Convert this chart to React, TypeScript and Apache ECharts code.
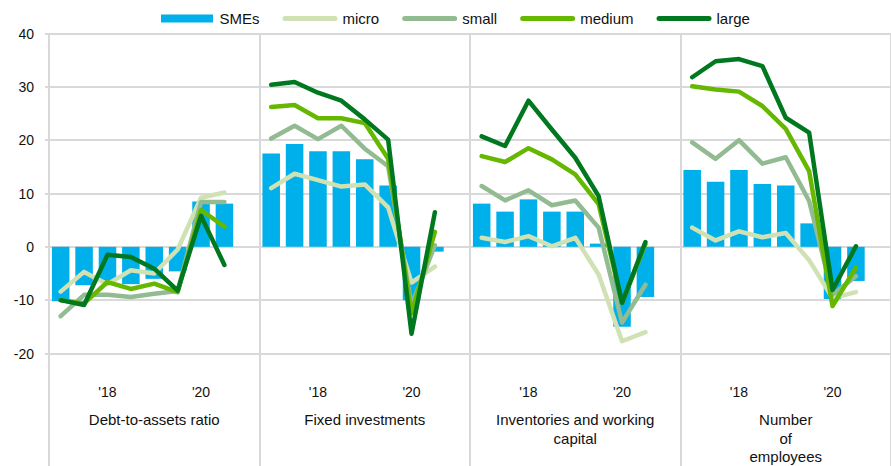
import React, { useEffect, useRef } from "react";
import * as echarts from "echarts";

const panelNames = [
  "Debt-to-assets ratio",
  "Fixed investments",
  "Inventories and working\ncapital",
  "Number\nof\nemployees",
];
const slotLabels = ["", "", "'18", "", "", "", "'20", "", ""];

// values per panel (8 survey rounds each)
const smes = [
  [-10.2, -7.2, -6.5, -7.0, -6.0, -4.6, 8.5, 8.1],
  [17.5, 19.3, 17.9, 17.9, 16.4, 11.5, -10.0, -0.9],
  [8.1, 6.6, 8.9, 6.6, 6.6, 0.6, -15.0, -9.4],
  [14.4, 12.2, 14.4, 11.8, 11.5, 4.4, -9.8, -6.4],
];
const micro = [
  [-8.4, -4.7, -7.0, -4.4, -5.0, -0.5, 9.2, 10.2],
  [11.0, 13.7, 12.5, 11.3, 11.7, 7.4, -6.7, -3.7],
  [1.7, 0.9, 2.0, 0.1, 1.7, -5.2, -17.7, -16.0],
  [3.6, 1.2, 2.9, 1.8, 2.6, -2.5, -9.6, -8.5],
];
const small = [
  [-13.0, -9.0, -9.0, -9.4, -8.8, -8.3, 8.4, 8.4],
  [20.3, 22.7, 20.2, 22.7, 18.4, 15.1, -11.0, 0.3],
  [11.4, 8.7, 10.6, 7.8, 8.7, 3.6, -14.2, -7.1],
  [19.6, 16.5, 20.0, 15.6, 16.8, 8.6, -9.0, -5.5],
];
const medium = [
  [-10.0, -10.6, -6.6, -7.9, -6.9, -8.5, 6.9, 3.8],
  [26.2, 26.6, 24.1, 24.1, 23.2, 16.5, -12.5, 2.8],
  [17.0, 15.9, 18.5, 16.4, 13.6, 8.0, -10.5, 0.5],
  [30.1, 29.5, 29.1, 26.4, 22.1, 14.2, -11.1, -3.9],
];
const large = [
  [-10.0, -10.9, -1.5, -1.9, -4.1, -8.2, 5.8, -3.4],
  [30.4, 30.9, 28.9, 27.4, 23.9, 20.1, -16.3, 6.5],
  [20.7, 18.9, 27.4, 22.0, 16.7, 9.5, -10.5, 0.9],
  [31.8, 34.8, 35.2, 33.9, 24.2, 21.4, -8.1, 0.1],
];

const colors = {
  SMEs: "#00B0EA",
  micro: "#D0E2B4",
  small: "#92BB91",
  medium: "#65B700",
  large: "#00781F",
};

const flat = (arr: number[][]) => {
  const out: (number | null)[] = [];
  arr.forEach((p) => {
    p.forEach((v) => out.push(v));
    out.push(null);
  });
  return out;
};

const categories: string[] = [];
panelNames.forEach((_, pi) => slotLabels.forEach((_, si) => categories.push(`${pi}-${si}`)));

const FONT = "Liberation Sans, Arial, sans-serif";
const GRID_COLOR = "#D9D9D9";
const LINE_ICON = "path://M2.5,0H52.5A2.5,2.5,0,0,1,52.5,5H2.5A2.5,2.5,0,0,1,2.5,0Z";
const BAR_ICON = "path://M0,0H52V8H0Z";

export default function App() {
  const ref = useRef<HTMLDivElement>(null);
  useEffect(() => {
    if (!ref.current) return;
    const chart = echarts.init(ref.current, undefined, { renderer: "svg" });
    const lineSeries = (name: keyof typeof colors, data: number[][]) => ({
      name,
      type: "line",
      xAxisIndex: 0,
      yAxisIndex: 0,
      data: flat(data),
      symbol: "none",
      connectNulls: false,
      lineStyle: { color: colors[name], width: 4.5, cap: "round", join: "round" },
      itemStyle: { color: colors[name] },
    });
    chart.setOption({
      animation: false,
      textStyle: { fontFamily: FONT },
      legend: {
        data: [
          { name: "SMEs", icon: BAR_ICON },
          { name: "micro", icon: LINE_ICON },
          { name: "small", icon: LINE_ICON },
          { name: "medium", icon: LINE_ICON },
          { name: "large", icon: LINE_ICON },
        ],
        left: 156,
        top: 6,
        itemWidth: 55,
        itemHeight: 8,
        itemGap: 23,
        symbolKeepAspect: true,
        textStyle: { fontSize: 15, color: "#111", fontFamily: FONT },
      },
      grid: [
        { left: 49, top: 33.5, width: 846, height: 320.5 },
        { left: 49, top: 354, width: 846, bottom: 0 },
      ],
      xAxis: [
        {
          type: "category",
          gridIndex: 0,
          data: categories,
          position: "bottom",
          axisLine: { show: false },
          axisTick: { show: false },
          splitLine: { show: false },
          axisLabel: {
            interval: 0,
            margin: 31,
            fontSize: 14,
            color: "#111",
            fontFamily: FONT,
            formatter: (_v: string, i: number) => slotLabels[i % 9],
          },
        },
        {
          type: "category",
          gridIndex: 0,
          data: panelNames,
          position: "bottom",
          axisLine: { show: false },
          axisTick: { show: false },
          splitLine: { show: true, interval: 0, lineStyle: { color: GRID_COLOR, width: 2 } },
          axisLabel: {
            interval: 0,
            margin: 57,
            fontSize: 15,
            lineHeight: 18.5,
            color: "#111",
            fontFamily: FONT,
          },
        },
        {
          type: "category",
          gridIndex: 1,
          data: panelNames,
          axisLine: { show: false },
          axisTick: { show: false },
          axisLabel: { show: false },
          splitLine: { show: true, interval: 0, lineStyle: { color: GRID_COLOR, width: 2 } },
        },
      ],
      yAxis: [
        {
          type: "value",
          gridIndex: 0,
          min: -20,
          max: 40,
          interval: 10,
          axisLine: { show: false },
          axisTick: { show: true, length: 4, lineStyle: { color: GRID_COLOR, width: 2 } },
          splitLine: { show: true, lineStyle: { color: GRID_COLOR, width: 2 } },
          axisLabel: { margin: 15, fontSize: 14, color: "#111", fontFamily: FONT },
        },
        { type: "value", gridIndex: 1, show: false },
      ],
      series: [
        {
          name: "SMEs",
          type: "bar",
          xAxisIndex: 0,
          yAxisIndex: 0,
          data: flat(smes),
          barCategoryGap: "25%",
          itemStyle: { color: colors.SMEs },
        },
        lineSeries("micro", micro),
        lineSeries("small", small),
        lineSeries("medium", medium),
        lineSeries("large", large),
      ],
    });
    return () => chart.dispose();
  }, []);
  return (
    <div
      ref={ref}
      style={{ position: "absolute", left: 0, top: 0, width: 891, height: 466, overflow: "hidden" }}
    />
  );
}
